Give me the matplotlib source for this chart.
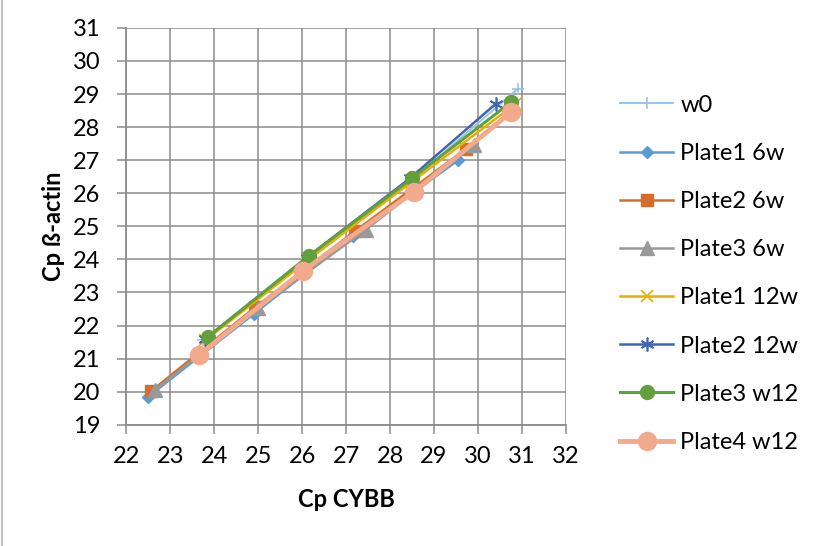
import matplotlib.pyplot as plt

# Cp values (x = CYBB, y = beta-actin)
series_names = ['w0', 'Plate1 6w', 'Plate2 6w', 'Plate3 6w',
                'Plate1 12w', 'Plate2 12w', 'Plate3 w12', 'Plate4 w12']

w0_x = [23.75, 26.1, 28.5, 30.9]
w0_y = [21.55, 24.05, 26.4, 29.15]

p1_6w_x = [22.5, 24.9, 27.15, 29.55]
p1_6w_y = [19.85, 22.35, 24.7, 27.0]

p2_6w_x = [22.57, 24.93, 27.2, 29.73]
p2_6w_y = [20.02, 22.55, 24.85, 27.35]

p3_6w_x = [22.65, 25.0, 27.45, 29.9]
p3_6w_y = [20.05, 22.52, 24.9, 27.45]

p1_12w_x = [23.8, 26.15, 28.5, 30.85]
p1_12w_y = [21.55, 24.0, 26.35, 28.7]

p2_12w_x = [23.8, 26.1, 28.45, 30.4]
p2_12w_y = [21.6, 24.05, 26.45, 28.7]

p3_w12_x = [23.85, 26.15, 28.5, 30.75]
p3_w12_y = [21.65, 24.1, 26.45, 28.75]

p4_w12_x = [23.65, 26.02, 28.55, 30.75]
p4_w12_y = [21.1, 23.65, 26.05, 28.45]

plt.rcParams['font.family'] = ['Lato', 'DejaVu Sans']

fig = plt.figure(figsize=(8.25, 5.46), dpi=100)
ax = fig.add_axes([0.153, 0.222, 0.533, 0.727])

grid_c = '#8c8c8c'

ax.plot(w0_x, w0_y, color='#9dc3e6', lw=1.5, marker='+', ms=9, mew=1.2, label=series_names[0])
ax.plot(p1_6w_x, p1_6w_y, color='#5b9bd5', lw=1.8, marker='D', ms=6, label=series_names[1])
ax.plot(p2_6w_x, p2_6w_y, color='#d56e2c', lw=1.8, marker='s', ms=9, label=series_names[2])
ax.plot(p3_6w_x, p3_6w_y, color='#999999', lw=1.8, marker='^', ms=10, label=series_names[3])
ax.plot(p1_12w_x, p1_12w_y, color='#e8ae00', lw=1.8, marker='x', ms=8, mew=1.2, label=series_names[4])
ax.plot(p2_12w_x, p2_12w_y, color='#3e65b2', lw=1.8, marker=(6, 2, 0), ms=10, mew=1.2, label=series_names[5])
ax.plot(p3_w12_x, p3_w12_y, color='#62a03e', lw=2.2, marker='o', ms=10, label=series_names[6])
ax.plot(p4_w12_x, p4_w12_y, color='#f2a98c', lw=3.5, marker='o', ms=13, label=series_names[7])

ax.set_xlim(22, 32)
ax.set_ylim(19, 31)
ax.set_xticks(range(22, 33))
ax.set_yticks(range(19, 32))
ax.grid(True, color=grid_c, lw=1.1)
ax.set_axisbelow(True)

for s in ['top', 'right']:
    ax.spines[s].set_visible(False)
for s in ['left', 'bottom']:
    ax.spines[s].set_color(grid_c)
    ax.spines[s].set_linewidth(1.3)

ax.tick_params(axis='both', length=6.5, width=1.1, color=grid_c, labelsize=17)
ax.tick_params(axis='y', pad=12)
ax.tick_params(axis='x', pad=9)

ax.set_xlabel('Cp CYBB', fontsize=17, fontweight='bold', labelpad=15)
ax.set_ylabel('Cp ß-actin', fontsize=17, fontweight='bold', labelpad=6)

ax.legend(loc='upper left', bbox_to_anchor=(1.075, 0.885), frameon=False,
          fontsize=17, handlelength=2.25, labelspacing=1.15, handletextpad=0.3)

# chart border on the left edge
fig.add_artist(plt.Line2D([0.002, 0.002], [0, 1], color='#bfbfbf', lw=1.5))

fig.savefig('out.png', dpi=100)
